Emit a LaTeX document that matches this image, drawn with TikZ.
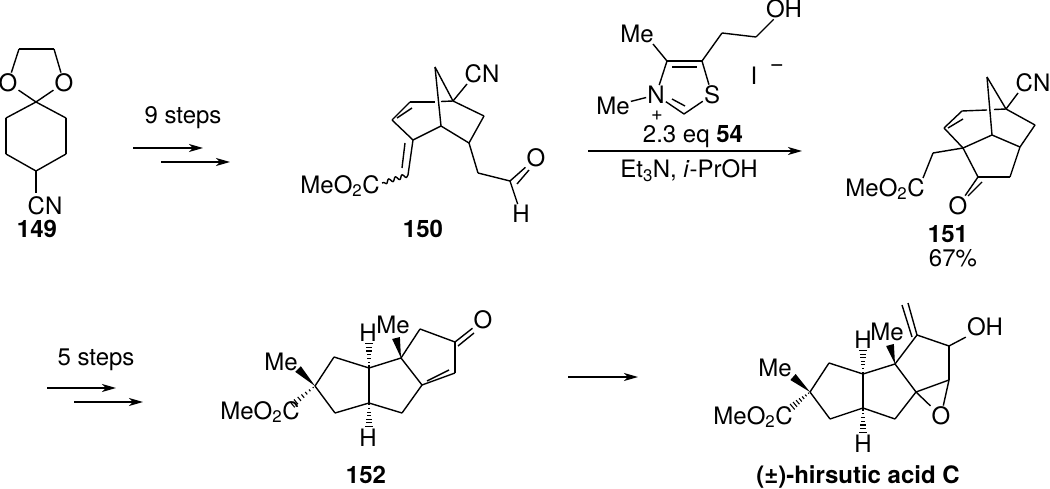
\documentclass[tikz,border=0pt]{standalone}
\usepackage{fontspec}
\setmainfont{TeX Gyre Heros}
\usepackage{tikz}
\usetikzlibrary{calc,arrows.meta,decorations.pathmorphing}
\tikzset{
atom/.style={inner sep=0.5pt,font=\fontsize{24}{26}\selectfont},
cmpd/.style={inner sep=0pt,font=\fontsize{24}{26}\selectfont\bfseries},
txt/.style={inner sep=0pt,font=\fontsize{24}{26}\selectfont},
rxn/.style={-{Stealth[length=14pt,width=8pt,inset=4pt]}},
wavy/.style={decorate,decoration={snake,amplitude=2pt,segment length=7pt}}
}
\newcommand{\wedgebond}[2]{\fill (#1) -- ($(#2)!4pt!90:(#1)$) -- ($(#2)!4pt!-90:(#1)$) -- cycle;}
\newcommand{\hashbond}[2]{\foreach \t/\w in {0.08/0.6,0.23/1.1,0.38/1.6,0.53/2.1,0.68/2.6,0.83/3.1,0.98/3.6}
  {\path ($(#1)!\t!(#2)$) coordinate (hh) ($(hh)!\w pt!90:(#2)$) coordinate (hp) ($(hh)!\w pt!-90:(#2)$) coordinate (hq); \draw[line width=1.1pt] (hp) -- (hq);}}
\begin{document}
\begin{tikzpicture}[x=1pt,y=-1pt,line width=1.4pt,line join=round]
\useasboundingbox (0,0) rectangle (1050,489);
% 149
\node[atom] (oa) at (8,83) {O};
\node[atom] (ob) at (64,83) {O};
\coordinate (ca) at (19,49);
\coordinate (cb) at (54,49);
\coordinate (cc) at (36,102);
\coordinate (cd) at (66,118);
\coordinate (ce) at (66,154);
\coordinate (cf) at (36,171);
\coordinate (cg) at (6,154);
\coordinate (ch) at (6,118);
\coordinate (ci) at (36,193);
\node[txt] (cn) at (45,206) {CN};
\node[cmpd] (la) at (37,229) {149};
\path (oa) edge (ca);
\path (ca) edge (cb);
\path (cb) edge (ob);
\path (oa) edge (cc);
\path (ob) edge (cc);
\path (cc) edge (cd);
\path (cd) edge (ce);
\path (ce) edge (cf);
\path (cf) edge (cg);
\path (cg) edge (ch);
\path (ch) edge (cc);
\path (cf) edge (ci);
% 9 steps
\node[txt] (ta) at (183,118) {9 steps};
\coordinate (aa) at (133,148);
\coordinate (ab) at (203,148);
\coordinate (ac) at (161,162);
\coordinate (ad) at (230,162);
\draw[rxn] (aa) -- (ab);
\draw[rxn] (ac) -- (ad);
% 150
\coordinate (da) at (435,67);
\coordinate (db) at (453,101);
\coordinate (dc) at (441,126);
\coordinate (dd) at (410,102);
\coordinate (de) at (392,120);
\coordinate (df) at (413,140);
\coordinate (dg) at (408,175);
\coordinate (dh) at (382,183);
\coordinate (di) at (484,116);
\coordinate (dj) at (469,143);
\coordinate (dk) at (478,173);
\coordinate (dl) at (510,181);
\coordinate (dm) at (467,84);
\coordinate (dn) at (435,102);
\coordinate (dp) at (441,101.5);
\coordinate (dq) at (397,118);
\coordinate (dr) at (412,108);
\coordinate (ds) at (405,143);
\coordinate (dt) at (402,168);
\coordinate (du) at (517,184);
\coordinate (dv) at (529,170);
\node[txt] (dx) at (482,74) {CN};
\node[txt] (dy) at (340,186) {MeO\textsubscript{2}C};
\node[atom] (dz) at (536,158) {O};
\node[atom] (ea) at (521,214) {H};
\node[cmpd] (lb) at (423,229) {150};
\path (da) edge (db);
\path (da) edge (dc);
\path (dd) edge (dn);
\path (dp) edge (db);
\path (dd) edge (de);
\path (dq) edge (dr);
\path (de) edge (df);
\path (df) edge (dc);
\path (df) edge (dg);
\path (ds) edge (dt);
\draw[wavy] (dg) -- (dh);
\path (dc) edge (dj);
\path (dj) edge (di);
\path (di) edge (db);
\path (db) edge (dm);
\path (dj) edge (dk);
\path (dk) edge (dl);
\path (dl) edge (dz);
\path (du) edge (dv);
\path (dl) edge (ea);
% thiazolium
\node[atom] (fa) at (656,95) {N};
\node[atom] (fb) at (712,95) {S};
\coordinate (fc) at (667,61);
\coordinate (fd) at (702,61);
\coordinate (fe) at (684,114);
\coordinate (ff) at (653,44);
\coordinate (fg) at (722,33);
\coordinate (fh) at (756,37);
\coordinate (fi) at (672,67);
\coordinate (fj) at (697,67);
\coordinate (fk) at (672,99);
\coordinate (fl) at (685,106);
\node[atom] (fm) at (637,34) {Me};
\node[atom] (fn) at (613,106) {Me};
\node[atom] (fo) at (784,9) {OH};
\node[txt] (fp) at (754,76) {I};
\node[txt] (fq) at (777,68) {\textminus};
\node[inner sep=0pt,font=\fontsize{20}{20}\selectfont] (fr) at (657,115.5) {+};
\path (fa) edge (fc);
\path (fc) edge (fd);
\path (fd) edge (fb);
\path (fb) edge (fe);
\path (fe) edge (fa);
\path (fi) edge (fj);
\path (fk) edge (fl);
\path (fc) edge (ff);
\path (fn) edge (fa);
\path (fd) edge (fg);
\path (fg) edge (fh);
\path (fh) edge (fo);
% main arrow
\node[txt] (tb) at (693,137) {2.3 eq \textbf{54}};
\node[txt] (tc) at (689,171) {Et\textsubscript{3}N, \textit{i}-PrOH};
\coordinate (ae) at (588,151);
\coordinate (af) at (802,151);
\draw[rxn] (ae) -- (af);
% 151
\coordinate (ga) at (987,77);
\coordinate (gb) at (1006,109);
\coordinate (gc) at (992,135);
\coordinate (gd) at (962,111);
\coordinate (ge) at (944,128);
\coordinate (gf) at (963,148);
\coordinate (gg) at (1035,125);
\coordinate (gh) at (1020,147);
\coordinate (gi) at (1010,177);
\coordinate (gj) at (978,177);
\coordinate (gk) at (933,153);
\coordinate (gl) at (923,178);
\coordinate (gm) at (1018,93);
\coordinate (gn) at (987,110);
\coordinate (gp) at (994,109.5);
\coordinate (gq) at (948,128);
\coordinate (gr) at (963,119);
\coordinate (gs) at (982,182);
\coordinate (gt) at (968,196);
\node[txt] (gu) at (1033,83) {CN};
\node[txt] (gv) at (885,189) {MeO\textsubscript{2}C};
\node[atom] (gw) at (958,206) {O};
\node[cmpd] (lc) at (948,234) {151};
\node[txt] (gx) at (953,258) {67\%};
\path (ga) edge (gb);
\path (ga) edge (gc);
\path (gd) edge (gn);
\path (gp) edge (gb);
\path (gd) edge (ge);
\path (gq) edge (gr);
\path (ge) edge (gf);
\path (gf) edge (gc);
\path (gc) edge (gh);
\path (gh) edge (gg);
\path (gg) edge (gb);
\path (gb) edge (gm);
\path (gh) edge (gi);
\path (gi) edge (gj);
\path (gj) edge (gf);
\path (gj) edge (gw);
\path (gs) edge (gt);
\path (gf) edge (gk);
\path (gk) edge (gl);
% 5 steps
\node[txt] (td) at (96,360) {5 steps};
\coordinate (ag) at (47,388);
\coordinate (ah) at (116,388);
\coordinate (ai) at (74,402);
\coordinate (aj) at (143,402);
\draw[rxn] (ag) -- (ah);
\draw[rxn] (ai) -- (aj);
% 152
\coordinate (ha) at (315,386);
\coordinate (hb) at (334,357);
\coordinate (hc) at (369,368);
\coordinate (hd) at (369,403);
\coordinate (he) at (335,413);
\coordinate (hf) at (401,358);
\coordinate (hg) at (422,385);
\coordinate (hi) at (402,413);
\coordinate (hj) at (455,373);
\coordinate (hk) at (455,342);
\coordinate (hl) at (420,329);
\coordinate (hm) at (298,369);
\coordinate (hn) at (292,405);
\coordinate (ho) at (369,343);
\coordinate (hp1) at (369,427);
\coordinate (hq1) at (396,338);
\coordinate (hr) at (427,381);
\coordinate (hs) at (449,370);
\coordinate (ht) at (458,346);
\coordinate (hu) at (474,333);
\node[atom] (hv) at (483,320) {O};
\node[txt] (hw) at (281,362) {Me};
\node[txt] (hx) at (260,412) {MeO\textsubscript{2}C};
\node[txt] (hy) at (368,333) {H};
\node[txt] (hz) at (393,325) {Me};
\node[txt] (ia) at (368,438) {H};
\node[cmpd] (ld) at (366,475) {152};
\path (ha) edge (hb);
\path (hb) edge (hc);
\path (hc) edge (hd);
\path (hd) edge (he);
\path (he) edge (ha);
\path (hc) edge (hf);
\path (hf) edge (hg);
\path (hg) edge (hi);
\path (hi) edge (hd);
\path (hg) edge (hj);
\path (hr) edge (hs);
\path (hj) edge (hk);
\path (hk) edge (hl);
\path (hl) edge (hf);
\path (hk) edge (hv);
\path (ht) edge (hu);
\wedgebond{ha}{hm}
\wedgebond{hf}{hq1}
\hashbond{ha}{hn}
\hashbond{hc}{ho}
\hashbond{hd}{hp1}
% arrow
\coordinate (ak) at (568,377);
\coordinate (al) at (638,377);
\draw[rxn] (ak) -- (al);
% hirsutic acid C
\coordinate (ja) at (810,392);
\coordinate (jb) at (829,363);
\coordinate (jc) at (863,374);
\coordinate (jd) at (863,408);
\coordinate (je) at (830,419);
\coordinate (jf) at (895,364);
\coordinate (jg) at (916,392);
\coordinate (jh) at (895,419);
\coordinate (ji) at (917,335);
\coordinate (jj) at (949,346);
\coordinate (jk) at (949,380);
\coordinate (jl) at (908,303);
\coordinate (jm) at (902,305);
\coordinate (jn) at (912,337);
\coordinate (jo) at (793,377);
\coordinate (jp) at (792,407);
\coordinate (jq) at (863,350);
\coordinate (jr) at (863,433);
\coordinate (js) at (890,345);
\node[atom] (jt) at (941,416) {O};
\node[atom] (ju) at (985,327) {OH};
\node[txt] (jv) at (775,368) {Me};
\node[txt] (jw) at (753,417) {MeO\textsubscript{2}C};
\node[txt] (jx) at (863,340) {H};
\node[txt] (jy) at (887,332) {Me};
\node[txt] (jz) at (863,444) {H};
\node[cmpd] (le) at (858,477) {(±)-hirsutic acid C};
\path (ja) edge (jb);
\path (jb) edge (jc);
\path (jc) edge (jd);
\path (jd) edge (je);
\path (je) edge (ja);
\path (jc) edge (jf);
\path (jf) edge (jg);
\path (jg) edge (jh);
\path (jh) edge (jd);
\path (jf) edge (ji);
\path (ji) edge (jj);
\path (jj) edge (jk);
\path (jk) edge (jg);
\path (jg) edge (jt);
\path (jk) edge (jt);
\path (jj) edge (ju);
\path (ji) edge (jl);
\path (jn) edge (jm);
\wedgebond{ja}{jo}
\wedgebond{jf}{js}
\hashbond{ja}{jp}
\hashbond{jc}{jq}
\hashbond{jd}{jr}
\end{tikzpicture}
\end{document}
